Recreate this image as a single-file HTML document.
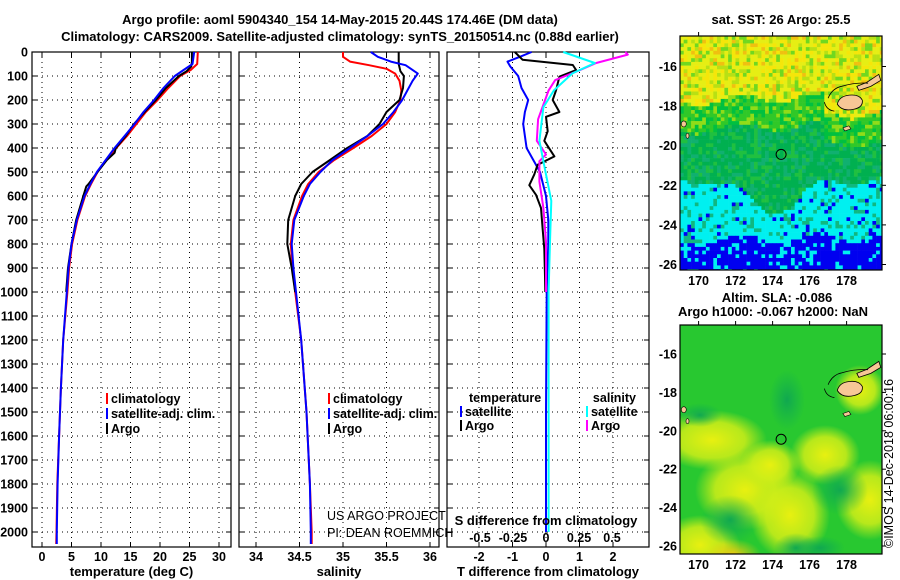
<!DOCTYPE html>
<html><head><meta charset="utf-8"><style>
body{margin:0;background:#fff;}
svg{display:block;font-family:"Liberation Sans",sans-serif;}
.t{font-weight:bold;font-size:13px;}
.k{font-weight:bold;font-size:12.5px;}
</style></head><body>
<svg id="chart" width="900" height="580" viewBox="0 0 900 580">
<text class="t" x="340" y="24" text-anchor="middle">Argo profile: aoml 5904340_154 14-May-2015 20.44S 174.46E (DM data)</text>
<text class="t" x="340" y="41" text-anchor="middle">Climatology: CARS2009. Satellite-adjusted climatology: synTS_20150514.nc (0.88d earlier)</text>
<g id="panels"></g>
<g id="maps"></g>
</svg>
<script>
// ---------- data ----------
const depthTicks=[0,100,200,300,400,500,600,700,800,900,1000,1100,1200,1300,1400,1500,1600,1700,1800,1900,2000];
const tTicks=[0,5,10,15,20,25,30];
const sTicks=[34,34.5,35,35.5,36];
const dTTicks=[-2,-1,0,1,2];
const dSTicks=[-0.5,-0.25,0,0.25,0.5];
const dSTickLabels=["-0.5","-0.25","0","0.25","0.5"];
// temperature
const tClimDepth=[0,50,75,100,150,200,250,300,350,400,450,500,550,600,700,800,900,1000,1200,1400,1600,1800,2000,2050];
const tClim=[26.4,26.3,25.2,23.4,21.4,19.6,17.6,16.0,14.4,12.6,10.9,9.4,8.3,7.3,6.0,5.1,4.6,4.3,3.6,3.2,2.9,2.6,2.45,2.4];
const tSat=[25.8,25.5,24.0,22.5,20.6,19.0,17.2,15.7,14.0,12.3,10.8,9.3,8.2,7.2,5.9,5.0,4.5,4.2,3.6,3.2,2.9,2.65,2.5,2.5];
const tArgoDepth=[0,20,40,60,80,100,150,200,250,300,350,400,420,450,500,550,560,600,700,800,900,1000];
const tArgo=[25.4,25.4,25.4,25.3,24.5,23.2,21.0,19.3,17.4,15.6,14.2,12.5,12.3,11.0,9.4,7.9,7.5,7.0,5.8,5.0,4.4,4.1];
// salinity
const sClimDepth=[0,20,40,55,70,90,120,160,200,250,300,350,400,450,500,550,600,700,800,900,1000,1200,1500,1800,2000,2050];
const sClim=[35.0,35.0,35.08,35.3,35.5,35.6,35.65,35.67,35.66,35.6,35.5,35.33,35.12,34.9,34.72,34.6,34.53,34.43,34.4,34.42,34.45,34.52,34.58,34.62,34.64,34.64];
const sSat=[35.32,35.4,35.55,35.72,35.78,35.86,35.8,35.74,35.68,35.58,35.46,35.28,35.08,34.88,34.74,34.62,34.55,34.44,34.41,34.43,34.46,34.52,34.58,34.62,34.63,34.63];
const sArgoDepth=[0,50,80,100,150,200,250,300,350,400,450,500,550,600,700,800,900,1000];
const sArgo=[35.64,35.64,35.66,35.7,35.69,35.65,35.5,35.42,35.28,35.05,34.85,34.65,34.52,34.45,34.37,34.36,34.41,34.45];
// differences
const dTSatDepth=[0,20,40,60,100,150,200,250,300,400,450,500,600,700,800,1000,1500,2000];
const dTSat=[-0.43,-0.78,-1.15,-1.07,-0.83,-0.73,-0.53,-0.63,-0.68,-0.58,-0.38,-0.18,0,0.07,0.07,0.02,0.0,0.0];
const dTArgoDepth=[0,32,54,75,103,160,200,250,270,330,370,435,470,510,555,595,650,735,820,935,1000];
const dTArgo=[-0.93,-0.7,0.8,0.9,0.4,0.3,0.2,0.4,0.0,0.05,-0.05,0.25,-0.25,-0.35,-0.5,-0.3,-0.15,-0.1,-0.05,-0.03,-0.02];
const dSArgoDepth=[0,11,46,75,117,160,280,370,427,455,540,650,790,1000];
const dSArgo=[0.6,0.62,0.38,0.26,0.07,0.02,-0.06,-0.07,0.0,-0.05,-0.05,-0.02,0.0,0.0];
const dSSatDepth=[0,46,89,160,230,370,510,620,790,1000,2000];
const dSSat=[0.13,0.37,0.2,0.06,-0.02,-0.05,-0.0,0.04,0.03,0.02,0.02];

const NS="http://www.w3.org/2000/svg";
function el(tag,attrs,parent){const e=document.createElementNS(NS,tag);for(const k in attrs)e.setAttribute(k,attrs[k]);if(parent)parent.appendChild(e);return e;}
const Y0=52,Ybot=547,dyPer=0.24;
const yAx=d=>Y0+d*dyPer;
const panels=document.getElementById('panels');
function panel(name,x0,x1,xf,ticks,labels,xlabel,showY){
  const g=el('g',{},panels);
  
  
  depthTicks.forEach(d=>{el('line',{x1:x0,x2:x1,y1:yAx(d),y2:yAx(d),stroke:'#000','stroke-dasharray':'1 4','stroke-width':1},g);
    el('line',{x1:x0,x2:x0+5,y1:yAx(d),y2:yAx(d),stroke:'#000'},g);el('line',{x1:x1-5,x2:x1,y1:yAx(d),y2:yAx(d),stroke:'#000'},g);
    if(showY){const t=el('text',{x:x0-4,y:yAx(d)+4.5,'text-anchor':'end',class:'k'},g);t.textContent=d;}});
  ticks.forEach((v,i)=>{const x=xf(v);el('line',{x1:x,x2:x,y1:Y0,y2:Ybot,stroke:'#000','stroke-dasharray':'1 4'},g);
    el('line',{x1:x,x2:x,y1:Ybot-5,y2:Ybot,stroke:'#000'},g);el('line',{x1:x,x2:x,y1:Y0,y2:Y0+5,stroke:'#000'},g);
    const t=el('text',{x:x,y:Ybot+14,'text-anchor':'middle',class:'k'},g);t.textContent=labels?labels[i]:v;
    });
  el('rect',{x:x0,y:Y0,width:x1-x0,height:Ybot-Y0,fill:'none',stroke:'#000','stroke-width':1.2},g);
  const t=el('text',{x:(x0+x1)/2,y:Ybot+29,'text-anchor':'middle',class:'t'},g);t.textContent=xlabel;
  
  return g;
}
function line(g,xf,depths,vals,color,name,w){
  const pts=depths.map((d,i)=>xf(vals[i]).toFixed(1)+','+yAx(d).toFixed(1)).join(' ');
  const p=el('polyline',{points:pts,fill:'none',stroke:color,'stroke-width':w||2,'stroke-linejoin':'round'},g);
  
}
function txt(g,x,y,s,name,anchor){const t=el('text',{x:x,y:y,class:'k','text-anchor':anchor||'start'},g);t.textContent=s;return t;}
function legItem(g,x,y,color,label,name){el('rect',{x:x,y:y-10,width:2,height:11,fill:color},g);txt(g,x+5,y,label,name);}

const xT=v=>42+v*5.9;
const g1=panel('temperature-panel',32,231,xT,tTicks,null,'temperature (deg C)',true);
line(g1,xT,tClimDepth,tClim,'#f00','climatology-temp-line');
line(g1,xT,tArgoDepth,tArgo,'#000','argo-temp-line');
line(g1,xT,tClimDepth,tSat,'#00f','satellite-temp-line');
legItem(g1,106,403,'#f00','climatology','legend-climatology');
legItem(g1,106,418,'#00f','satellite-adj. clim.','legend-satellite');
legItem(g1,106,433,'#000','Argo','legend-argo');

const xS=v=>256+(v-34)*87;
const g2=panel('salinity-panel',239,439,xS,sTicks,null,'salinity',false);
line(g2,xS,sClimDepth,sClim,'#f00','climatology-sal-line');
line(g2,xS,sArgoDepth,sArgo,'#000','argo-sal-line');
line(g2,xS,sClimDepth,sSat,'#00f','satellite-sal-line');
legItem(g2,328,403,'#f00','climatology','legend2-climatology');
legItem(g2,328,418,'#00f','satellite-adj. clim.','legend2-satellite');
legItem(g2,328,433,'#000','Argo','legend2-argo');
[['US ARGO PROJECT',520],['PI: DEAN ROEMMICH',537]].forEach(a=>{const t=el('text',{x:327,y:a[1],'font-size':'12.5','fill':'#000'},g2);t.textContent=a[0];});

const xdT=v=>546+v*33.5;
const xdS=v=>546+v*132;
const g3=panel('difference-panel',447,649,xdT,dTTicks,null,'T difference from climatology',false);
line(g3,xdT,dTSatDepth,dTSat,'#00f','temp-diff-satellite-line');
line(g3,xdT,dTArgoDepth,dTArgo,'#000','temp-diff-argo-line');
line(g3,xdS,dSArgoDepth,dSArgo,'#f0f','sal-diff-argo-line');
line(g3,xdS,dSSatDepth,dSSat,'#0ff','sal-diff-satellite-line');
txt(g3,469,402,'temperature','legend3-temp-heading');
legItem(g3,460,416,'#00f','satellite','legend3-temp-sat');
legItem(g3,460,430,'#000','Argo','legend3-temp-argo');
txt(g3,636,402,'salinity','legend3-sal-heading','end');
legItem(g3,586,416,'#0ff','satellite','legend3-sal-sat');
legItem(g3,586,430,'#f0f','Argo','legend3-sal-argo');
txt(g3,546,525,'S difference from climatology','s-diff-axis-title','middle').setAttribute('class','t');
dSTicks.forEach((v,i)=>{txt(g3,xdS(v),542,dSTickLabels[i],'s-diff-tick-label','middle');});

// ---------- maps ----------
const maps=document.getElementById('maps');
const mx0=680,mx1=882;
const lonX=l=>698.6+(l-170)*18.5;
function hash(i,j,s){let h=(i*374761393+j*668265263+s*1442695041)|0;h=(h^(h>>>13))*1274126177|0;return ((h^(h>>>16))>>>0)/4294967296;}
function mapFrame(name){
  const g=el('g',{},maps);return g;
}
function mapAxes(g,y0,y1,latY){
  el('rect',{x:mx0,y:y0,width:mx1-mx0,height:y1-y0,fill:'none',stroke:'#000','stroke-width':1.2},g);
  [-16,-18,-20,-22,-24,-26].forEach(l=>{const y=latY(l);el('line',{x1:mx1,x2:mx1+4,y1:y,y2:y,stroke:'#000'},g);
    txt(g,mx0-3,y+4.5,String(l),'map-lat-label','end');});
  [170,172,174,176,178].forEach(l=>{const x=lonX(l);el('line',{x1:x,x2:x,y1:y0-4,y2:y0,stroke:'#000'},g);
    txt(g,x,y1+15,String(l),'map-lon-label','middle');});
}
function islands(g,latY){
  const cx=lonX(178.2),cy=latY(-17.9);
  el('path',{d:`M${cx-13},${cy} q2,-8 12,-9 q10,-1 13,5 q1,7 -8,9 q-12,3 -17,-5z`,fill:'#f7c796',stroke:'#000','stroke-width':0.8},g);
  const cx2=lonX(179.2),cy2=latY(-16.8);
  el('path',{d:`M${cx2-12},${cy2+4} l10,-4 l12,-8 l2,6 l-10,6 l-12,4z`,fill:'#f7c796',stroke:'#000','stroke-width':0.8},g);
  el('path',{d:`M${lonX(177.0)},${latY(-17.6)} q4,-10 14,-12 q14,-4 26,-3`,fill:'none',stroke:'#000','stroke-width':0.8},g);
  el('path',{d:`M${lonX(176.8)},${latY(-17.8)} q2,8 10,9`,fill:'none',stroke:'#000','stroke-width':0.8},g);
  el('path',{d:`M${lonX(177.8)},${latY(-19.1)} l6,-2 l2,3 l-6,2z`,fill:'#f7c796',stroke:'#000','stroke-width':0.6},g);
  el('ellipse',{cx:lonX(169.2),cy:latY(-18.9),rx:2.5,ry:3,fill:'#f7c796',stroke:'#000','stroke-width':0.6},g);
  el('ellipse',{cx:lonX(169.4),cy:latY(-19.5),rx:1.5,ry:2.5,fill:'#f7c796',stroke:'#000','stroke-width':0.6},g);
  el('circle',{cx:lonX(174.46),cy:latY(-20.44),r:5,fill:'none',stroke:'#000','stroke-width':1},g);
}
// Map 1 SST
{
 const y0=36,y1=270,latY=l=>66.5+(-16-l)*19.8;
 const g=mapFrame('sst-map');
 const defs=el('defs',{},g);
 const cl=el('clipPath',{id:'m1clip'},defs);el('rect',{x:mx0,y:y0,width:mx1-mx0,height:y1-y0},cl);
 const gg=el('g',{'clip-path':'url(#m1clip)'},g);
 const cs=3.7;const nx=Math.ceil((mx1-mx0)/cs),ny=Math.ceil((y1-y0)/cs);
 for(let j=0;j<ny;j++)for(let i=0;i<nx;i++){
  const fy=j/ny,fx=i/nx,r=hash(i,j,1);let c;
  const wave=0.02*Math.sin(i*0.3);
  const bump=0.13*Math.exp(-Math.pow((fx-0.45)/0.18,2));
  const yb=0.27+wave-0.03*fx+(fx>0.7?0.08:0);
  if(fy<yb){c=r<0.4?'#e6ee14':r<0.6?'#f5e60a':r<0.75?'#b8e014':r<0.9?'#70d820':'#f0c010';}
  else if(fy<yb+0.12){c=r<0.45?'#30c828':r<0.75?'#00c040':'#90dc18';}
  else if(fy<0.6+bump+wave){c=r<0.5?'#00b050':r<0.8?'#10b070':'#20c040';}
  else if(fy<0.86+wave-0.02*fx){c=r<0.72?'#00f0f0':r<0.9?'#10b880':'#0000f0';}
  else {c=r<0.82?'#0000f0':'#00f0f0';}
  el('rect',{x:mx0+i*cs,y:y0+j*cs,width:cs+0.3,height:cs+0.3,fill:c},gg);
 }
 islands(g,latY);mapAxes(g,y0,y1,latY);
 const t=txt(g,(mx0+mx1)/2,24,'sat. SST: 26 Argo: 25.5','sst-map-title','middle');t.setAttribute('class','t');
}
// Map 2 SLA
{
 const y0=325,y1=554,latY=l=>354+(-16-l)*19.2;
 const g=mapFrame('sla-map');
 const defs=el('defs',{},g);
 const grad=el('radialGradient',{id:'yb'},defs);
 el('stop',{offset:'0','stop-color':'#e8f010'},grad);el('stop',{offset:'0.6','stop-color':'#d0ee18','stop-opacity':'0.85'},grad);el('stop',{offset:'1','stop-color':'#c8ec18','stop-opacity':'0'},grad);
 const grad2=el('radialGradient',{id:'db'},defs);
 el('stop',{offset:'0','stop-color':'#10a850'},grad2);el('stop',{offset:'1','stop-color':'#10b050','stop-opacity':'0'},grad2);
 const grad3=el('radialGradient',{id:'ob'},defs);
 el('stop',{offset:'0','stop-color':'#f5cc10'},grad3);el('stop',{offset:'1','stop-color':'#f5cc10','stop-opacity':'0'},grad3);
 const cl=el('clipPath',{id:'m2clip'},defs);el('rect',{x:mx0,y:y0,width:mx1-mx0,height:y1-y0},cl);
 const gg=el('g',{'clip-path':'url(#m2clip)'},g);
 el('rect',{x:mx0,y:y0,width:mx1-mx0,height:y1-y0,fill:'#28c830'},gg);
 [[712,440,55,30],[745,490,50,40],[790,515,40,45],[825,455,35,30],[870,500,35,40],[700,545,40,30],[770,465,30,25],[860,390,25,25]].forEach(b=>el('ellipse',{cx:b[0],cy:b[1],rx:b[2],ry:b[3],fill:'url(#yb)'},gg));
 [[730,520,30,25],[787,400,18,30],[840,490,28,25],[700,415,22,12],[796,548,22,15],[820,548,25,12]].forEach(b=>el('ellipse',{cx:b[0],cy:b[1],rx:b[2],ry:b[3],fill:'url(#db)'},gg));
 el('ellipse',{cx:733,cy:555,rx:28,ry:16,fill:'url(#ob)'},gg);
 islands(g,latY);mapAxes(g,y0,y1,latY);
 const t1=txt(g,(mx0+mx1)/2-4,302,'Altim. SLA: -0.086','sla-map-title','middle');t1.setAttribute('class','t');
 const t2=txt(g,(mx0+mx1)/2-8,316,'Argo h1000: -0.067 h2000: NaN','sla-map-subtitle','middle');t2.setAttribute('class','t');
 const c=el('text',{x:0,y:0,'font-size':'12.5',transform:'translate(893,548) rotate(-90)'},g);c.textContent='©IMOS 14-Dec-2018 06:00:16';
 
}
</script>
</body></html>
